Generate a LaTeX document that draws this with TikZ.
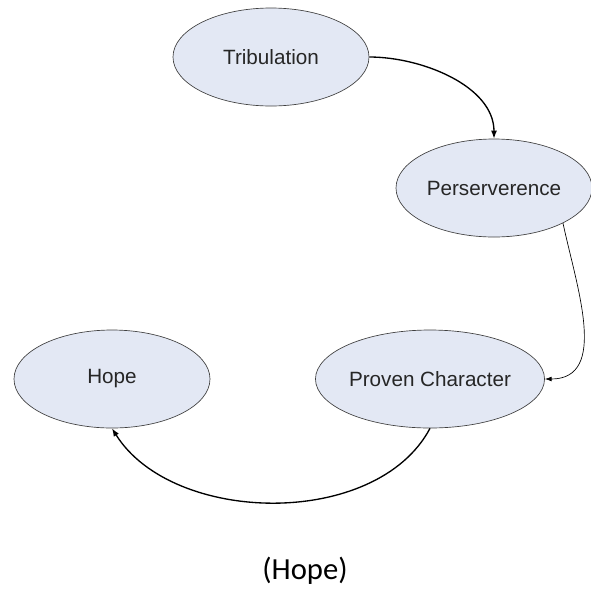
\documentclass[tikz,border=0pt]{standalone}
\usepackage{fontspec}
\setmainfont{Liberation Sans}
\newfontfamily\capfont{Carlito}
\usetikzlibrary{shapes.geometric,arrows.meta}

\definecolor{stepfill}{HTML}{E3E8F4}

\begin{document}
\begin{tikzpicture}[
  x=0.75pt, y=-0.75pt,
  every node/.style={ellipse, draw=black!75, line width=0.5pt, fill=stepfill,
    minimum width=147pt, minimum height=73.5pt, inner sep=0pt,
    font=\fontsize{15.5}{18}\selectfont, text=black!85},
  link/.style={-{Latex[length=6pt,width=4.5pt]}, line width=1pt}
]
\useasboundingbox (0,0) rectangle (591,590);

\node (trib)   at (271,57)  {Tribulation};
\node (pers)   at (494,188) {Perserverence};
\node (proven) at (430,379) {Proven Character};
\node (hope)   at (112,379) {Hope};

\node[draw=none, fill=none, shape=rectangle, font=\capfont\fontsize{23}{26}\selectfont,
  text=black] (caption) at (305,571) {(Hope)};

\draw[link] (trib.east) to[out=0, in=90, looseness=0.9] (pers.north);
\draw[link, line width=0.5pt, -{Latex[length=5pt,width=3.5pt]}]
  (pers.-27) to[out=-78, in=0, looseness=1.05] (proven.east);
\draw[link] (proven.south) to[out=-118, in=-58, looseness=0.92] (hope.south);

\end{tikzpicture}
\end{document}
